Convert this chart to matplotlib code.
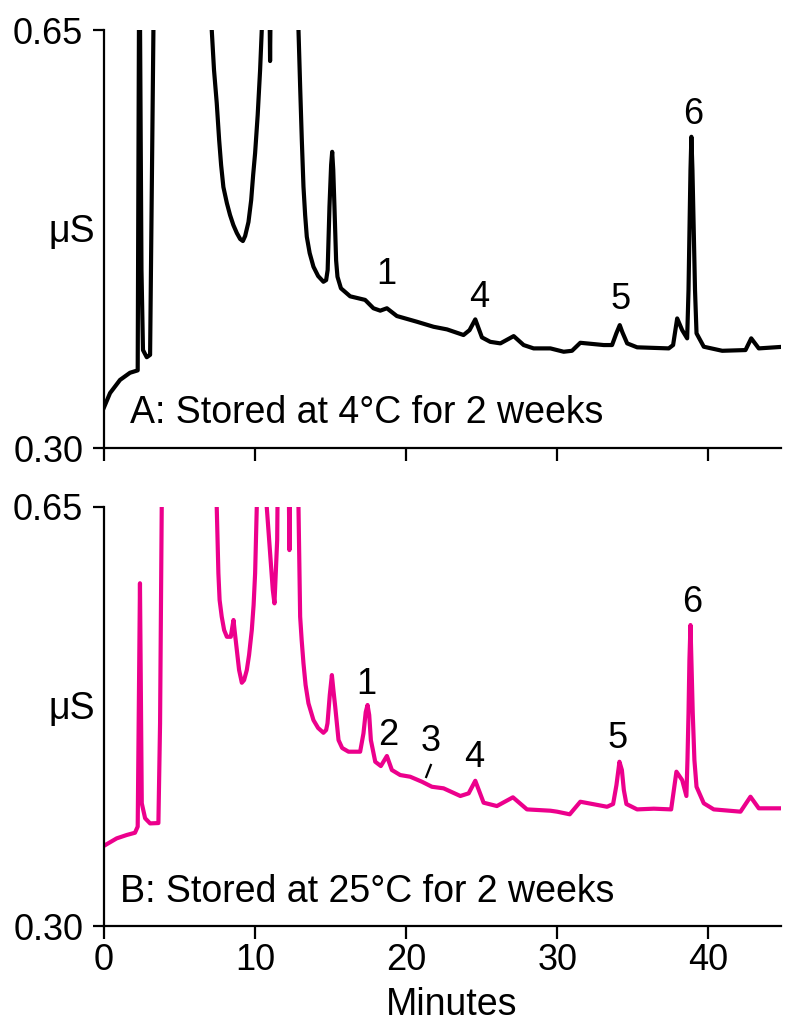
import matplotlib
matplotlib.use("Agg")
import matplotlib.pyplot as plt

plt.rcParams["font.family"] = ["Liberation Sans", "DejaVu Sans"]

# chromatogram A: stored at 4 C (minutes, uS); values above 0.65 run off scale
time_a = [0.0, 0.40, 1.06, 1.72, 2.23, 2.34, 2.48, 2.58, 2.83, 3.05, 3.23, 3.35,
          7.0, 7.13, 7.28, 7.46, 7.62, 7.75, 7.90, 8.13, 8.34, 8.56, 8.79, 9.01, 9.19,
          9.34, 9.56, 9.74, 9.87, 10.0, 10.17, 10.33, 10.44, 10.5,
          10.93, 10.99, 11.05,
          12.8, 12.87, 12.98, 13.09, 13.20, 13.31, 13.42, 13.61, 13.86, 14.17, 14.52,
          14.70, 14.80, 14.92, 15.03, 15.10, 15.17, 15.25, 15.36, 15.45, 15.68,
          16.29, 17.28, 17.83, 18.28, 18.72, 19.38, 20.71, 21.81, 22.70, 23.79,
          24.19, 24.57, 25.01, 25.56, 26.23, 27.11, 27.77, 28.43, 29.54, 30.42, 30.97,
          31.52, 33.07, 33.62, 33.91, 34.13, 34.30, 34.62, 35.28, 37.37, 37.66, 37.93,
          38.26, 38.59, 38.68, 38.74, 38.81, 38.87, 38.94, 39.03, 39.11, 39.21, 39.69,
          40.91, 42.45, 42.83, 43.33, 45.0]
signal_a = [0.334, 0.346, 0.357, 0.363, 0.365, 0.75, 0.449, 0.382, 0.376, 0.378, 0.60, 0.75,
            0.75, 0.650, 0.6165, 0.5889, 0.5579, 0.5369, 0.5185, 0.5051, 0.4951, 0.4867, 0.4800, 0.4750, 0.4733,
            0.4775, 0.4892, 0.5076, 0.5286, 0.5470, 0.5788, 0.6165, 0.650, 0.70,
            0.70, 0.624, 0.70,
            0.70, 0.650, 0.6025, 0.5579, 0.5188, 0.4951, 0.4769, 0.4632, 0.4518, 0.444, 0.4392,
            0.4406, 0.449, 0.502, 0.537, 0.548, 0.533, 0.502, 0.457, 0.4434, 0.4337,
            0.427, 0.424, 0.417, 0.415, 0.417, 0.4105, 0.4057, 0.4015, 0.3993, 0.3946,
            0.3987, 0.4077, 0.3926, 0.3889, 0.3876, 0.3937, 0.3862, 0.3834, 0.3834, 0.3806, 0.3814,
            0.3881, 0.3862, 0.3862, 0.3962, 0.4029, 0.397, 0.3876, 0.3843, 0.3834, 0.3862, 0.4085,
            0.3987, 0.3918, 0.4322, 0.4797, 0.5327, 0.5606, 0.5327, 0.4797, 0.4322, 0.396, 0.3848,
            0.3814, 0.382, 0.3918, 0.3834, 0.3848]

# chromatogram B: stored at 25 C
time_b = [0.0, 0.84, 1.50, 2.05, 2.23, 2.38, 2.50, 2.72, 3.05, 3.60, 3.71, 3.82, 3.9,
          7.4, 7.46, 7.57, 7.65, 7.79, 7.95, 8.13, 8.39, 8.48, 8.57, 8.64, 8.79, 8.94,
          9.12, 9.27, 9.45, 9.60, 9.78, 9.90, 10.0, 10.11, 10.2,
          10.7, 10.77, 11.17, 11.28, 11.46, 11.48, 11.55,
          12.2, 12.27, 12.34,
          12.8, 12.87, 12.98, 13.08, 13.20, 13.34, 13.53, 13.86, 14.17, 14.52, 14.70,
          14.79, 14.94, 15.08, 15.18, 15.30, 15.52, 15.76, 16.18,
          16.95, 17.17, 17.32, 17.44, 17.55, 17.66, 17.95, 18.32, 18.72, 19.05, 19.6,
          20.26, 21.04, 21.70, 22.47, 23.58, 24.13, 24.57, 25.12, 26.0, 27.06, 27.99,
          29.54, 29.98, 30.82, 31.52, 33.29, 33.69, 33.91, 34.11, 34.27, 34.40, 34.57,
          35.28, 36.38, 37.53, 37.88, 38.26, 38.54, 38.61, 38.68, 38.74, 38.81, 38.87,
          38.96, 39.07, 39.21, 39.69, 40.35, 42.12, 42.78, 43.33, 45.0]
signal_b = [0.367, 0.3732, 0.376, 0.3779, 0.383, 0.5863, 0.4025, 0.390, 0.3857, 0.386, 0.4693, 0.65, 0.75,
            0.75, 0.65, 0.5946, 0.5723, 0.5584, 0.5472, 0.5416, 0.5416, 0.5488, 0.5556, 0.5472, 0.5305, 0.5138,
            0.5032, 0.5054, 0.5138, 0.5264, 0.5472, 0.5681, 0.5946, 0.65, 0.70,
            0.70, 0.65, 0.5807, 0.5695, 0.6224, 0.65, 0.70,
            0.70, 0.614, 0.70,
            0.70, 0.65, 0.5584, 0.5389, 0.5194, 0.5013, 0.486, 0.472, 0.4654, 0.4614, 0.4637,
            0.4693, 0.4929, 0.5096, 0.4971, 0.4832, 0.4553, 0.4487, 0.4456,
            0.4456, 0.4609, 0.4787, 0.4846, 0.4762, 0.4553, 0.4372, 0.4336, 0.442, 0.4303, 0.4261,
            0.4247, 0.4205, 0.4163, 0.415, 0.4086, 0.4108, 0.4213, 0.403, 0.4002, 0.4075, 0.3974,
            0.3963, 0.3955, 0.3933, 0.4038, 0.3996, 0.4019, 0.4177, 0.4372, 0.4303, 0.4136, 0.4019,
            0.3974, 0.398, 0.3974, 0.4289, 0.4219, 0.4086, 0.4386, 0.4777, 0.5222, 0.5514, 0.5222,
            0.4777, 0.4386, 0.4163, 0.4025, 0.3974, 0.3955, 0.408, 0.3983, 0.3983]

# peak numbers: (label, minutes, uS)
peaks_a = [("1", 18.7, 0.445), ("4", 24.8, 0.426), ("5", 34.2, 0.424), ("6", 39.0, 0.579)]
peaks_b = [("1", 17.35, 0.502), ("2", 18.8, 0.4595), ("3", 21.6, 0.4537),
           ("4", 24.5, 0.441), ("5", 34.0, 0.457), ("6", 38.9, 0.570)]

x_ticks = [0, 10, 20, 30, 40]
y_ticks = [0.30, 0.65]

W, H = 785, 1023
fig = plt.figure(figsize=(W / 100, H / 100), dpi=100)
left, right = 104 / W, 781 / W
ax_a = fig.add_axes([left, 1 - 448 / H, right - left, 418 / H])
ax_b = fig.add_axes([left, 1 - 926 / H, right - left, 419 / H])


def style(ax, show_x):
    ax.set_xlim(0, 44.8)
    ax.set_ylim(0.30, 0.65)
    for s in ("top", "right"):
        ax.spines[s].set_visible(False)
    for s in ("left", "bottom"):
        ax.spines[s].set_linewidth(1.6)
    ax.set_xticks(x_ticks)
    ax.set_yticks(y_ticks)
    ax.set_yticklabels(["%.2f" % v for v in y_ticks])
    ax.tick_params(axis="x", direction="out", length=9.5, width=1.6, pad=3,
                   labelsize=26, labelbottom=show_x)
    ax.tick_params(axis="y", direction="out", length=8, width=1.6, pad=7,
                   labelsize=26)
    ax.text(-0.047, 0.517, "μS", transform=ax.transAxes, ha="center", va="center",
            fontsize=27)


style(ax_a, False)
style(ax_b, True)

ax_a.plot(time_a, signal_a, color="black", lw=3.0, solid_joinstyle="round")
ax_b.plot(time_b, signal_b, color="#EC008C", lw=3.0, solid_joinstyle="round")

for lab, t, v in peaks_a:
    ax_a.text(t, v, lab, ha="center", va="center", fontsize=26)
for lab, t, v in peaks_b:
    ax_b.text(t, v, lab, ha="center", va="center", fontsize=26)

# small leader under peak 3
ax_b.plot([21.32, 21.63], [0.4245, 0.4345], color="black", lw=1.6)

ax_a.text(0.038, 0.084, "A: Stored at 4°C for 2 weeks", transform=ax_a.transAxes,
          ha="left", va="center", fontsize=27)
ax_b.text(0.024, 0.081, "B: Stored at 25°C for 2 weeks", transform=ax_b.transAxes,
          ha="left", va="center", fontsize=27)

fig.text(452 / W, 1 - 1005 / H, "Minutes", ha="center", va="center", fontsize=27)

fig.savefig("out.png", dpi=100)
